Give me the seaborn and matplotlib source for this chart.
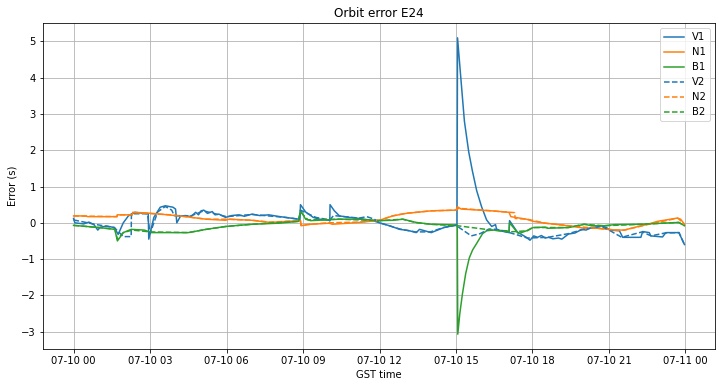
import pandas as pd
import numpy as np
import matplotlib
matplotlib.use('Agg')
import matplotlib.pyplot as plt
import matplotlib.dates as mdates
import seaborn as sns

# Values (hours after 07-10 00:00, error in s)
v1_hours = [0.0, 0.05, 0.4, 0.6, 0.8, 0.95, 1.05, 1.3, 1.6, 1.75, 1.95, 2.15, 2.4, 2.8, 2.93, 2.95,
            3.15, 3.4, 3.6, 3.9, 4.0, 4.05, 4.2, 4.4, 4.6, 4.79, 4.9, 5.0, 5.11, 5.25, 5.44, 5.55, 5.7, 5.96,
            6.2, 6.48, 6.7, 7.0, 7.3, 7.66, 8.0, 8.31, 8.83, 8.88, 8.9, 9.1, 9.4, 9.65, 10.03, 10.05,
            10.06, 10.23, 10.43, 10.82, 11.21, 11.74, 12.0, 12.39, 12.79, 13.0, 13.18, 13.44, 13.57,
            14.03, 14.53, 15.0, 15.04, 15.06, 15.2, 15.33, 15.5, 15.64, 15.81, 16.0, 16.2, 16.4, 16.55,
            16.6, 17.08, 17.1, 17.4, 17.76, 17.9, 18.05, 18.2, 18.35, 18.5, 18.63, 18.8, 19.02, 19.15,
            19.41, 19.67, 19.93, 20.1, 20.31, 20.5, 20.7, 20.9, 21.03, 21.41, 21.54, 22.25, 22.32,
            22.58, 22.64, 23.1, 23.23, 23.74, 23.96]
v1_vals = [0.12, 0.0, -0.03, 0.02, -0.05, -0.2, -0.12, -0.09, -0.13, -0.32, 0.0, 0.19, 0.29, 0.26, 0.25, -0.45,
           0.15, 0.43, 0.47, 0.43, 0.38, 0.0, 0.19, 0.2, 0.17, 0.29, 0.22, 0.33, 0.35, 0.26, 0.31, 0.22, 0.24, 0.15,
           0.2, 0.22, 0.18, 0.24, 0.2, 0.22, 0.18, 0.15, 0.1, 0.08, 0.5, 0.3, 0.15, 0.1, 0.07, 0.05,
           0.5, 0.33, 0.19, 0.15, 0.12, 0.06, 0.0, -0.08, -0.18, -0.2, -0.22, -0.27, -0.18,
           -0.27, -0.13, -0.06, -0.08, 5.1, 3.9, 2.8, 1.95, 1.44, 0.89, 0.45, 0.08, -0.1, -0.05,
           -0.2, -0.27, 0.06, -0.25, -0.4, -0.48, -0.36, -0.4, -0.35, -0.42, -0.4, -0.44, -0.42, -0.45,
           -0.31, -0.28, -0.18, -0.2, -0.13, -0.12, -0.08, -0.13, -0.2, -0.22, -0.4, -0.4, -0.24,
           -0.27, -0.36, -0.39, -0.27, -0.27, -0.6]

n1_hours = [0.0, 0.5, 0.55, 1.7, 1.72, 2.3, 2.32, 2.9, 3.4, 3.7, 4.4, 5.2, 5.96, 6.1, 7.0, 7.7, 8.9,
            8.92, 9.3, 10.03, 10.15, 11.21, 12.0, 12.52, 13.05, 14.03, 15.0, 15.06, 15.2, 16.4, 17.08,
            17.15, 17.76, 18.03, 18.5, 19.15, 19.67, 20.05, 20.57, 21.22, 21.61, 21.87, 22.51, 22.9,
            23.68, 23.81, 23.96]
n1_vals = [0.19, 0.19, 0.17, 0.17, 0.22, 0.22, 0.29, 0.27, 0.24, 0.22, 0.17, 0.1, 0.07, 0.1, 0.07, 0.01, 0.06,
           -0.08, -0.04, -0.01, -0.04, 0.01, 0.07, 0.19, 0.26, 0.33, 0.35, 0.44, 0.38, 0.33, 0.29,
           0.17, 0.1, 0.04, -0.01, -0.06, -0.11, -0.15, -0.15, -0.2, -0.2, -0.15, -0.04, 0.04,
           0.13, 0.1, -0.04]

b1_hours = [0.0, 1.0, 1.62, 1.72, 1.95, 2.26, 2.78, 3.04, 4.5, 5.2, 5.96, 7.0, 8.05, 8.83, 8.9, 9.1,
            9.3, 10.43, 11.2, 12.0, 12.52, 12.92, 13.44, 14.03, 15.0, 15.05, 15.07, 15.15, 15.25, 15.38,
            15.52, 15.65, 15.8, 16.04, 16.2, 16.43, 17.0, 17.08, 17.1, 17.45, 17.76, 18.03, 18.5, 18.6,
            19.41, 20.05, 20.31, 20.83, 21.22, 22.25, 23.1, 23.74, 23.96]
b1_vals = [-0.07, -0.13, -0.18, -0.5, -0.27, -0.18, -0.2, -0.27, -0.27, -0.18, -0.1, -0.04, -0.01, 0.04, 0.35, 0.1,
           0.06, 0.1, 0.1, 0.06, 0.07, 0.1, 0.01, -0.04, -0.06, -0.08, -3.07, -2.5, -1.97, -1.4,
           -0.97, -0.75, -0.58, -0.3, -0.22, -0.2, -0.22, -0.25, 0.0, -0.3, -0.22, -0.13, -0.12, -0.15,
           -0.13, -0.04, -0.08, -0.08, -0.05, -0.04, -0.01, 0.01, -0.08]

v2_hours = [0.0, 0.9, 1.6, 1.95, 2.26, 2.27, 2.9, 3.0, 3.3, 3.6, 3.85, 3.95, 4.6, 5.1, 6.0, 7.0, 8.3,
            8.85, 8.9, 9.2, 9.5, 10.05, 10.2, 11.2, 11.5, 11.8, 12.0, 12.8, 13.4, 14.0, 14.5, 15.0,
            15.6, 15.94, 16.3, 16.6, 17.1, 17.8, 18.6, 19.4, 20.0, 20.7, 21.0, 21.5, 22.3, 22.65,
            23.2, 23.75, 23.96]
v2_vals = [0.08, -0.05, -0.13, -0.38, -0.38, 0.25, 0.25, -0.3, 0.3, 0.45, 0.35, 0.2, 0.19, 0.33, 0.17, 0.23, 0.15,
           0.1, 0.35, 0.25, 0.15, 0.08, 0.2, 0.13, 0.17, 0.1, 0.0, -0.17, -0.25, -0.25, -0.13, -0.07,
           -0.36, -0.3, -0.17, -0.18, -0.27, -0.42, -0.4, -0.3, -0.18, -0.1, -0.2, -0.4, -0.25, -0.36,
           -0.28, -0.27, -0.6]

n2_hours = [0.0, 1.7, 1.72, 2.3, 2.32, 2.9, 3.8, 4.4, 5.2, 6.0, 7.0, 7.7, 8.9, 8.92, 10.0, 11.2, 12.0,
            12.5, 13.0, 14.0, 15.0, 15.1, 16.4, 17.3, 17.32, 17.8, 18.5, 19.7, 20.5, 21.3, 21.6, 22.5,
            23.7, 23.96]
n2_vals = [0.19, 0.17, 0.22, 0.22, 0.28, 0.26, 0.22, 0.17, 0.1, 0.1, 0.07, 0.02, 0.06, -0.06, 0.0, 0.02, 0.07,
           0.19, 0.26, 0.33, 0.35, 0.4, 0.33, 0.28, 0.12, 0.1, -0.01, -0.1, -0.15, -0.2, -0.2, -0.05,
           0.13, -0.04]

b2_hours = [0.0, 1.0, 1.62, 1.72, 1.95, 2.3, 3.0, 4.5, 5.2, 6.0, 7.0, 8.8, 8.9, 9.2, 10.4, 12.0, 12.9,
            13.4, 14.0, 15.05, 16.4, 17.1, 17.8, 18.0, 19.4, 20.0, 20.8, 22.3, 23.74, 23.96]
b2_vals = [-0.07, -0.13, -0.18, -0.45, -0.27, -0.2, -0.25, -0.27, -0.18, -0.1, -0.04, 0.04, 0.3, 0.08, 0.1, 0.06, 0.1,
           0.01, -0.04, -0.08, -0.2, -0.25, -0.22, -0.13, -0.13, -0.04, -0.08, -0.04, 0.01, -0.08]

start = pd.Timestamp('2024-07-10 00:00')

series = [
    ('V1', v1_hours, v1_vals, 'tab:blue', '-'),
    ('N1', n1_hours, n1_vals, 'tab:orange', '-'),
    ('B1', b1_hours, b1_vals, 'tab:green', '-'),
    ('V2', v2_hours, v2_vals, 'tab:blue', '--'),
    ('N2', n2_hours, n2_vals, 'tab:orange', '--'),
    ('B2', b2_hours, b2_vals, 'tab:green', '--'),
]

fig, ax = plt.subplots(figsize=(719 / 72, 387 / 72), dpi=72)
fig.subplots_adjust(left=43 / 719, right=715 / 719, top=1 - 23 / 387, bottom=1 - 349 / 387)

for name, hrs, vals, color, ls in series:
    df = pd.DataFrame({'time': start + pd.to_timedelta(hrs, unit='h'), 'error': vals})
    sns.lineplot(data=df, x='time', y='error', ax=ax, color=color, linestyle=ls,
                 label=name, estimator=None, linewidth=1.5)

ax.set_title('Orbit error E24')
ax.set_xlabel('GST time')
ax.set_ylabel('Error (s)')
ax.xaxis.set_major_locator(mdates.HourLocator(byhour=range(0, 24, 3)))
ax.xaxis.set_major_formatter(mdates.DateFormatter('%m-%d %H'))
ax.grid(True)
ax.legend(loc='upper right')

plt.savefig('out.png', dpi=72)
